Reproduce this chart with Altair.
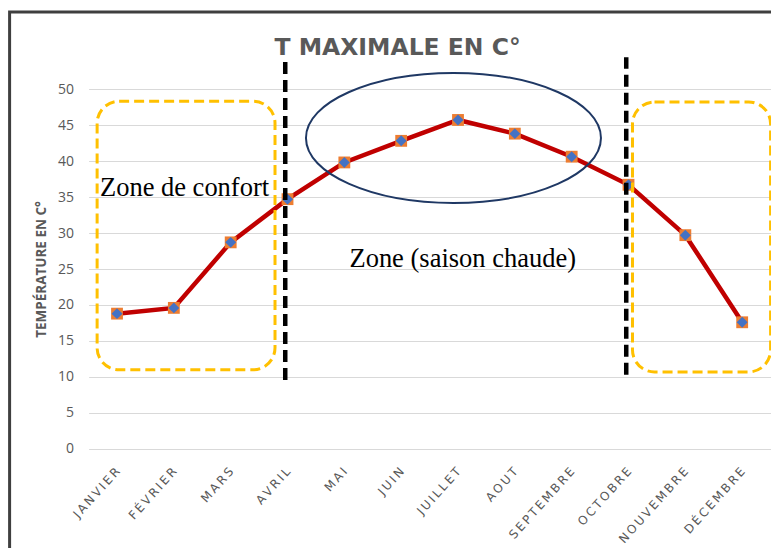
import altair as alt
import pandas as pd

# ---- data ----
MONTHS = ["JANVIER", "FÉVRIER", "MARS", "AVRIL", "MAI", "JUIN", "JUILLET",
          "AOUT", "SEPTEMBRE", "OCTOBRE", "NOUVEMBRE", "DÉCEMBRE"]
MONTH_NUM = list(range(1, 13))
TMAX = [18.8, 19.6, 28.7, 34.7, 39.8, 42.8, 45.7, 43.8, 40.6, 36.7, 29.7, 17.6]
TITLE = ["T MAXIMALE  EN C°"]

# ---- annotation geometry, in data units (month index, °C) ----
ZONE_X1 = [0.65, 10.07]
ZONE_X2 = [3.78, 12.5]
ZONE_Y1 = [11.0, 10.7]
ZONE_Y2 = [48.3, 48.2]
SPLIT_X = [3.96, 9.96]
SPLIT_Y1 = [9.6, 10.3]
SPLIT_Y2 = [53.8, 54.4]
LABEL_TEXT = ["Zone de confort", "Zone (saison chaude)"]
LABEL_X = [0.70, 5.09]
LABEL_Y = [35.1, 25.3]
ELLIPSE_X = [6.92]
ELLIPSE_Y = [43.2]

df = pd.DataFrame({"m": MONTH_NUM, "month": MONTHS, "t": TMAX})
zones = pd.DataFrame({"m": ZONE_X1, "m2": ZONE_X2, "t": ZONE_Y1, "t2": ZONE_Y2})
splits = pd.DataFrame({"m": SPLIT_X, "t": SPLIT_Y1, "t2": SPLIT_Y2})
labels = pd.DataFrame({"m": LABEL_X, "t": LABEL_Y, "txt": LABEL_TEXT})
ell = pd.DataFrame({"m": ELLIPSE_X, "t": ELLIPSE_Y})
ttl = pd.DataFrame({"txt": TITLE})

xs = alt.Scale(domain=[0.5, 12.5], nice=False, zero=False)
ys = alt.Scale(domain=[0, 50], nice=False)

GRAY = "#595959"
THIN = "\u2009"
month_arr = "[" + ",".join("'" + m + "'" for m in MONTHS) + "]"
month_expr = "join(split(" + month_arr + "[datum.value - 1], ''), '" + THIN + "')"

x_axis = alt.Axis(values=MONTH_NUM, labelExpr=month_expr, labelAngle=-48,
                  labelFont="DejaVu Sans", labelFontSize=12, labelColor=GRAY,
                  labelPadding=20, labelBaseline="middle", labelAlign="right",
                  labelOverlap=False, labelBound=False,
                  ticks=False, domain=False, grid=False, title=None)
y_axis = alt.Axis(values=list(range(0, 51, 5)), labelFont="Open Sans",
                  labelFontSize=14, labelColor=GRAY, labelPadding=15,
                  labelOverlap=False, ticks=False, domain=False, grid=True,
                  gridColor="#D9D9D9", gridWidth=1, title="TEMPÉRATURE EN C°",
                  titleFont="Open Sans", titleFontSize=13.5, titleFontWeight="bold",
                  titleColor=GRAY, titleAngle=-90, titleX=-47, titleY=180,
                  titleAlign="center", titleBaseline="middle")

X = alt.X("m:Q", scale=xs, axis=x_axis)
Y = alt.Y("t:Q", scale=ys, axis=y_axis)

frame = alt.Chart(ttl).mark_rect(fillOpacity=0, stroke="#3f3f3f",
                                 strokeWidth=3).encode(
    x=alt.value(-79), x2=alt.value(760), y=alt.value(-77), y2=alt.value(520))

title_mark = alt.Chart(ttl).mark_text(font="DejaVu Sans", fontSize=23.5,
                                      fontWeight="bold", color=GRAY,
                                      align="center", baseline="alphabetic").encode(
    x=alt.value(309), y=alt.value(-34), text="txt:N")

line = alt.Chart(df).mark_line(color="#C00000", strokeWidth=4.5).encode(x=X, y=Y)

sq = alt.Chart(df).mark_point(shape="square", filled=True, size=140,
                              color="#ED7D31", opacity=1).encode(x=X, y=Y)

dia = alt.Chart(df).mark_point(shape="diamond", filled=True, size=120,
                               color="#4472C4", opacity=1).encode(x=X, y=Y)

zone_rects = alt.Chart(zones).mark_rect(fillOpacity=0, stroke="#FFC000",
                                        strokeWidth=3, strokeDash=[10, 5],
                                        cornerRadius=22).encode(
    x=X, x2="m2:Q", y=Y, y2="t2:Q")

split_rules = alt.Chart(splits).mark_rule(color="black", strokeWidth=4.5,
                                          strokeDash=[12, 6]).encode(
    x=X, y=Y, y2="t2:Q")

ELLIPSE_PATH = ("M-1,0 C-1,-0.2434 -0.5523,-0.4407 0,-0.4407 "
                "C0.5523,-0.4407 1,-0.2434 1,0 C1,0.2434 0.5523,0.4407 0,0.4407 "
                "C-0.5523,0.4407 -1,0.2434 -1,0 Z")
ellipse = alt.Chart(ell).mark_point(shape=ELLIPSE_PATH, size=87025,
                                    filled=False, stroke="#1F3864",
                                    strokeWidth=2, opacity=1).encode(x=X, y=Y)

texts = alt.Chart(labels).mark_text(font="Liberation Serif", fontSize=26.5,
                                    align="left", baseline="alphabetic",
                                    color="black").encode(
    x=X, y=Y, text="txt:N")

chart = alt.layer(frame, title_mark, line, sq, dia, zone_rects, split_rules,
                  ellipse, texts).properties(
    width=682, height=360,
    autosize=alt.AutoSizeParams(type="none"),
    padding={"left": 80.6, "top": 81, "right": 0, "bottom": 99},
    background="white",
).configure_view(stroke=None)

chart.save("out.html", embed_options={"renderer": "svg", "actions": False})
